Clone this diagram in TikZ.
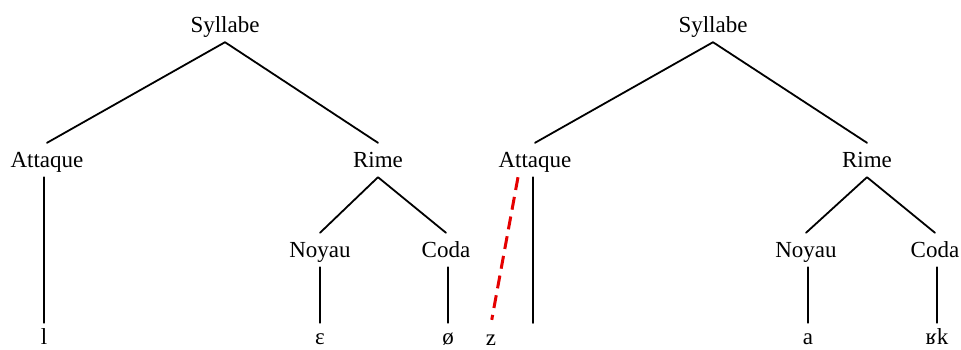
\documentclass[tikz,border=0pt]{standalone}
\usepackage{fontspec}
\setmainfont{Liberation Serif}
\begin{document}
\begin{tikzpicture}[x = 1pt, y = -1pt, line join = round, line cap = round, font = \fontsize{23}{27}\selectfont,
		lbl/.style = {inner sep = 7pt, text height = 17pt, text depth = 3pt, anchor = center},
		leaf/.style = {inner sep = 1pt, text height = 20pt, text depth = 0pt, anchor = base},
		branch/.style = {line width = 1.8pt, black},
		dashline/.style = {line width = 3pt, red!90!black, dash pattern = on 13pt off 7pt, line cap = butt}]
	\useasboundingbox (0,0) rectangle (961,349);
	
	% left tree
	\node[lbl] (syl1) at (225,25) {Syllabe};
	\node[lbl] (att1) at (47,160) {Attaque};
	\node[lbl] (rime1) at (378,160) {Rime};
	\node[lbl] (noy1) at (320,250) {Noyau};
	\node[lbl] (coda1) at (446,250) {Coda};
	\node[leaf] (l1) at (44,344) {l};
	\node[leaf] (e1) at (320,344) {ɛ};
	\node[leaf] (o1) at (448,344) {ø};
	\node[leaf] (z1) at (491,345) {z};
	
	% right tree
	\node[lbl] (syl2) at (713,25) {Syllabe};
	\node[lbl] (att2) at (535,160) {Attaque};
	\node[lbl] (rime2) at (867,160) {Rime};
	\node[lbl] (noy2) at (806,250) {Noyau};
	\node[lbl] (coda2) at (935,250) {Coda};
	\node[leaf] (a2) at (808,344) {a};
	\node[leaf] (rk2) at (937,344) {ʁk};
	\coordinate (att2l) at (533,323);
	
	\draw[branch] (syl1.south) -- (att1.north) (syl1.south) -- (rime1.north);
	\draw[branch] (rime1.south) -- (noy1.north) (rime1.south) -- (coda1.north);
	\draw[branch] (att1.south -| l1.north) -- (l1.north);
	\draw[branch] (noy1.south) -- (e1.north);
	\draw[branch] (coda1.south -| o1.north) -- (o1.north);
	
	\draw[branch] (syl2.south) -- (att2.north) (syl2.south) -- (rime2.north);
	\draw[branch] (rime2.south) -- (noy2.north) (rime2.south) -- (coda2.north);
	\draw[branch] (att2.south -| att2l) -- (att2l);
	\draw[branch] (noy2.south -| a2.north) -- (a2.north);
	\draw[branch] (coda2.south -| rk2.north) -- (rk2.north);
	
	\draw[dashline, shorten >= 4pt] ([xshift = -17pt]att2.south) -- (z1.north);
\end{tikzpicture}
\end{document}
